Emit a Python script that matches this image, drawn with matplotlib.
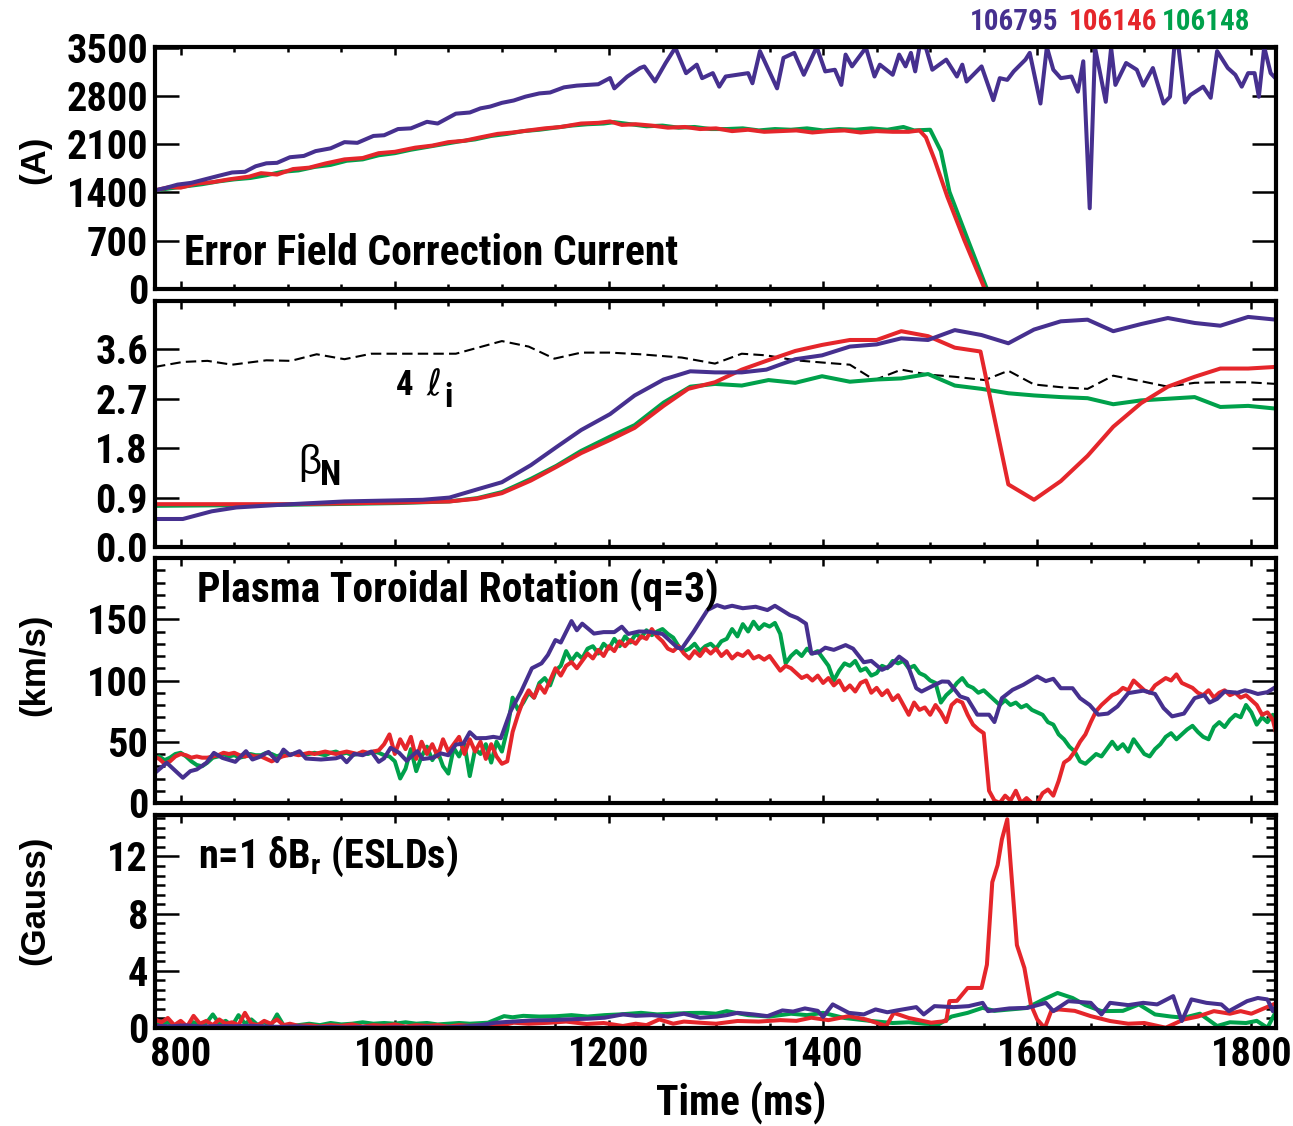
import numpy as np
import matplotlib
matplotlib.use("Agg")
from matplotlib import pyplot as plt
from matplotlib.ticker import MultipleLocator, FixedLocator, FormatStrFormatter

plt.rcParams['font.family'] = ['Roboto Condensed', 'Liberation Sans', 'DejaVu Sans']
plt.rcParams['font.weight'] = 'bold'
plt.rcParams['mathtext.default'] = 'regular'

PURPLE = '#46308f'
RED = '#e5262b'
GREEN = '#00a14b'

shots = ['106795', '106146', '106148']

# 01 - Error field correction current (A)
efc_t_purple = [776, 787, 797, 810, 825, 835, 848, 860, 870, 880, 890, 902, 915, 926, 940, 953, 965,
                980, 990, 1003, 1015, 1030, 1040, 1057, 1070, 1080, 1089, 1100, 1111, 1122, 1135, 1145,
                1158, 1170, 1180, 1190, 1201, 1205, 1217, 1229, 1233, 1243, 1253, 1262, 1272, 1282, 1287,
                1297, 1303, 1309, 1330, 1334, 1341, 1357, 1363, 1373, 1382, 1394, 1402, 1411, 1417, 1421,
                1427, 1440, 1448, 1453, 1465, 1471, 1477, 1482, 1486, 1490, 1496, 1502, 1515, 1525, 1530,
                1534, 1548, 1559, 1565, 1572, 1578, 1589, 1593, 1603, 1609, 1615, 1622, 1632, 1638, 1643,
                1649, 1654, 1664, 1669, 1673, 1683, 1693, 1699, 1708, 1718, 1724, 1728, 1732, 1738, 1743,
                1755, 1762, 1768, 1778, 1785, 1791, 1797, 1803, 1807, 1812, 1818, 1823]
efc_purple = [1430, 1470, 1514, 1540, 1600, 1640, 1690, 1700, 1780, 1823, 1830, 1911, 1930, 2000, 2040,
              2130, 2120, 2220, 2230, 2320, 2330, 2425, 2400, 2543, 2560, 2620, 2646, 2700, 2734, 2790,
              2837, 2850, 2925, 2950, 2960, 2970, 3060, 2910, 3080, 3205, 3228, 3010, 3280, 3500, 3130,
              3254, 3058, 3131, 2935, 3082, 3131, 2984, 3450, 2910, 3352, 3425, 3107, 3510, 3156, 3180,
              2960, 3400, 3229, 3500, 3082, 3254, 3107, 3400, 3229, 3425, 3156, 3510, 3500, 3180, 3327,
              3082, 3254, 3009, 3229, 2739, 3058, 3033, 3156, 3327, 3425, 2690, 3510, 3180, 3058, 3082,
              2862, 3303, 1171, 3500, 2715, 3500, 2960, 3278, 3180, 2950, 3205, 2690, 2788, 3510, 3500,
              2705, 2813, 2935, 2773, 3450, 3205, 3107, 2935, 3131, 3131, 2788, 3510, 3131, 3050]

efc_t_red = [776, 790, 800, 815, 830, 845, 864, 875, 890, 905, 920, 935, 953, 970, 985, 1000, 1019,
             1035, 1050, 1065, 1080, 1096, 1110, 1125, 1140, 1155, 1174, 1190, 1201, 1212, 1225, 1240,
             1255, 1271, 1285, 1300, 1315, 1330, 1345, 1360, 1375, 1390, 1405, 1420, 1435, 1450, 1465,
             1480, 1490, 1496, 1504, 1516, 1532, 1551, 1823]
efc_red = [1430, 1480, 1470, 1530, 1550, 1590, 1630, 1680, 1660, 1740, 1760, 1820, 1880, 1900, 1970,
           1990, 2050, 2080, 2130, 2150, 2200, 2250, 2270, 2300, 2330, 2350, 2400, 2410, 2430, 2380,
           2390, 2370, 2340, 2350, 2320, 2330, 2290, 2310, 2280, 2290, 2300, 2270, 2290, 2300, 2270,
           2290, 2280, 2280, 2300, 2200, 1880, 1340, 705, 0, 0]

efc_t_green = [776, 790, 805, 820, 835, 850, 865, 880, 895, 910, 925, 940, 955, 970, 985, 1000, 1015,
               1030, 1045, 1060, 1075, 1090, 1105, 1120, 1135, 1150, 1165, 1180, 1195, 1205, 1220, 1235,
               1250, 1265, 1280, 1295, 1310, 1325, 1340, 1355, 1370, 1385, 1400, 1415, 1430, 1445, 1460,
               1475, 1485, 1500, 1510, 1518, 1535, 1553, 1823]
efc_green = [1430, 1460, 1490, 1520, 1560, 1590, 1610, 1650, 1700, 1720, 1770, 1800, 1860, 1880, 1940,
             1970, 2020, 2060, 2100, 2140, 2170, 2220, 2250, 2290, 2310, 2340, 2370, 2390, 2400, 2420,
             2390, 2360, 2370, 2340, 2350, 2320, 2320, 2330, 2300, 2320, 2310, 2330, 2300, 2320, 2310,
             2330, 2310, 2350, 2300, 2310, 2000, 1410, 720, 0, 0]

# 02 - beta_N and 4 li
bn_t_purple = [776, 802, 829, 852, 903, 953, 1003, 1026, 1051, 1077, 1100, 1127, 1151, 1174, 1201, 1224,
               1251, 1276, 1299, 1324, 1347, 1374, 1399, 1425, 1450, 1473, 1498, 1523, 1548, 1573, 1597,
               1622, 1647, 1671, 1697, 1722, 1747, 1771, 1797, 1823]
bn_purple = [0.51, 0.51, 0.65, 0.72, 0.78, 0.83, 0.85, 0.86, 0.90, 1.05, 1.18, 1.49, 1.82, 2.13, 2.42,
             2.76, 3.05, 3.20, 3.18, 3.18, 3.23, 3.42, 3.49, 3.65, 3.69, 3.80, 3.77, 3.95, 3.86, 3.71,
             3.96, 4.11, 4.14, 3.93, 4.06, 4.17, 4.08, 4.03, 4.19, 4.14]

bn_t_red = [776, 903, 1003, 1051, 1077, 1100, 1127, 1151, 1174, 1201, 1224, 1251, 1274, 1299, 1324, 1347,
            1374, 1399, 1425, 1450, 1473, 1498, 1523, 1547, 1573, 1597, 1622, 1647, 1671, 1697, 1722,
            1747, 1771, 1797, 1823]
bn_red = [0.78, 0.78, 0.81, 0.83, 0.88, 0.98, 1.21, 1.46, 1.71, 1.95, 2.17, 2.57, 2.88, 3.00, 3.23, 3.39,
          3.57, 3.68, 3.77, 3.77, 3.93, 3.84, 3.63, 3.56, 1.14, 0.86, 1.20, 1.66, 2.19, 2.62, 2.92, 3.10,
          3.25, 3.25, 3.28]

bn_t_green = [776, 903, 1003, 1051, 1077, 1100, 1127, 1151, 1174, 1201, 1224, 1251, 1276, 1299, 1324,
              1349, 1374, 1399, 1425, 1450, 1473, 1498, 1523, 1548, 1573, 1597, 1622, 1647, 1671, 1697,
              1722, 1747, 1771, 1797, 1823]
bn_green = [0.75, 0.77, 0.80, 0.83, 0.89, 1.00, 1.24, 1.48, 1.75, 2.01, 2.22, 2.63, 2.92, 2.97, 2.94,
            3.04, 2.99, 3.11, 3.01, 3.05, 3.07, 3.15, 2.94, 2.88, 2.80, 2.76, 2.73, 2.71, 2.60, 2.67,
            2.70, 2.73, 2.55, 2.57, 2.52]

li_t = [776, 802, 825, 848, 880, 903, 927, 953, 978, 1003, 1057, 1100, 1125, 1149, 1174, 1201, 1229,
        1268, 1299, 1324, 1347, 1374, 1399, 1425, 1448, 1473, 1498, 1523, 1551, 1573, 1597, 1622, 1647,
        1671, 1697, 1722, 1747, 1771, 1797, 1823]
li4 = [3.28, 3.37, 3.39, 3.32, 3.40, 3.39, 3.51, 3.42, 3.52, 3.52, 3.52, 3.75, 3.65, 3.43, 3.54, 3.54,
       3.51, 3.45, 3.34, 3.52, 3.49, 3.40, 3.36, 3.32, 3.04, 3.23, 3.14, 3.10, 3.04, 3.21, 2.96, 2.91,
       2.88, 3.12, 3.02, 2.92, 2.99, 3.00, 3.00, 2.97]

# 03 - toroidal rotation at q=3 (km/s)
rot_t_purple = [776, 787, 802, 809, 815, 824, 831, 839, 851, 861, 867, 873, 882, 890, 896, 902, 911, 917,
                931, 945, 950, 955, 962, 970, 978, 985, 990, 996, 1004, 1011, 1021, 1026, 1036, 1043,
                1050, 1057, 1064, 1070, 1076, 1085, 1092, 1099, 1108, 1118, 1128, 1137, 1143, 1150, 1155,
                1165, 1170, 1175, 1186, 1195, 1205, 1212, 1218, 1228, 1237, 1250, 1264, 1268, 1279, 1285,
                1292, 1301, 1308, 1315, 1325, 1337, 1348, 1355, 1369, 1376, 1384, 1389, 1396, 1402, 1410,
                1421, 1428, 1438, 1445, 1455, 1463, 1471, 1478, 1487, 1492, 1501, 1511, 1517, 1528, 1535,
                1544, 1555, 1560, 1567, 1577, 1587, 1600, 1608, 1615, 1622, 1633, 1640, 1649, 1657, 1666,
                1675, 1685, 1699, 1710, 1718, 1726, 1737, 1747, 1756, 1761, 1768, 1775, 1787, 1794, 1799,
                1806, 1815, 1822]
rot_purple = [24.6, 32.8, 20.6, 26, 27.4, 32.8, 40.9, 36.8, 33.6, 42.3, 35.5, 37.4, 41.7, 34.1, 43.6, 39,
              42.3, 36.3, 35.5, 36.5, 38, 33.3, 40.1, 39, 42, 33.6, 36.5, 45, 41, 34.5, 42.3, 35.9, 37,
              40.5, 39, 47.7, 48.5, 57.8, 52.9, 53, 54, 52.9, 74.8, 91, 110, 114, 120.9, 133, 131, 148.5,
              141, 146.4, 138.3, 139.5, 139.5, 143.9, 138, 140, 139.8, 138, 126.8, 126, 139.8, 148, 157.5,
              161.5, 159.5, 161, 159, 160.2, 157.5, 161, 153.4, 151, 146.4, 122, 123, 126.8, 125, 128.9,
              126, 114.9, 116, 108.7, 112, 119.5, 115, 93.7, 91, 95, 99.2, 99, 87, 85, 72.1, 72.1, 66.1,
              85.6, 92.4, 96.5, 103.3, 99.5, 101.4, 93.7, 93.7, 85.6, 80, 72.1, 73, 78.9, 89.7, 91.7, 89,
              77.5, 70.7, 73, 85.6, 88, 82, 85, 91, 90, 92, 91, 89, 90.5, 94.3]

rot_t_grid = np.arange(775, 1830, 5)
rot_green = [36, 38, 35, 37, 40, 41, 38, 34, 31, 30, 33, 37, 38, 40, 38, 39, 37, 38, 40, 39,
             39, 41, 40, 38, 40, 39, 40, 41, 39, 40, 41, 40, 39, 41, 42, 40, 41, 39, 40, 41,
             40, 42, 41, 39, 38, 34, 20, 28, 44, 26, 38, 46, 35, 42, 30, 24, 45, 38, 48, 22,
             44, 40, 48, 33, 50, 42, 60, 86, 76, 82, 90, 86, 98, 102, 96, 108, 112, 124, 116, 122,
             118, 126, 128, 122, 130, 126, 134, 128, 136, 131, 138, 135, 141, 137, 140, 142, 138, 135, 128, 124,
             126, 130, 124, 128, 130, 126, 132, 134, 142, 136, 146, 140, 148, 142, 146, 144, 147, 138, 114, 120,
             124, 120, 126, 122, 124, 118, 112, 100, 108, 114, 112, 116, 108, 110, 104, 106, 112, 110, 116, 114,
             116, 110, 112, 106, 104, 100, 98, 82, 88, 92, 98, 102, 96, 94, 90, 92, 88, 84, 80, 84,
             80, 82, 78, 80, 76, 74, 72, 66, 64, 56, 52, 46, 42, 34, 32, 36, 40, 38, 44, 50,
             44, 48, 42, 52, 46, 40, 38, 44, 48, 54, 57, 52, 56, 60, 63, 58, 54, 52, 62, 66,
             62, 68, 72, 70, 80, 74, 64, 70, 66, 72, 64]
rot_red = [38, 36, 32, 34, 38, 40, 39, 37, 38, 37, 37, 38, 39, 41, 40, 41, 39, 38, 39, 38,
           38, 36, 34, 36, 38, 39, 40, 39, 40, 41, 40, 41, 42, 41, 40, 41, 42, 41, 40, 42,
           41, 42, 43, 48, 56, 40, 52, 44, 54, 36, 50, 40, 48, 38, 52, 42, 48, 54, 40, 52,
           42, 50, 36, 48, 38, 32, 34, 58, 72, 84, 92, 86, 96, 90, 100, 110, 104, 112, 115, 110,
           116, 122, 118, 125, 120, 128, 124, 132, 128, 133, 130, 136, 134, 142, 136, 132, 126, 124, 128, 122,
           118, 124, 120, 126, 122, 126, 120, 124, 118, 122, 120, 124, 118, 120, 117, 120, 114, 108, 112, 110,
           106, 102, 104, 100, 104, 98, 102, 96, 100, 92, 96, 91, 98, 100, 90, 94, 88, 92, 84, 88,
           80, 72, 82, 76, 78, 72, 80, 74, 66, 80, 84, 82, 72, 64, 60, 57, 10, 2, 0, 6,
           2, 10, 0, 4, 0, 0, 8, 11, 6, 18, 33, 36, 42, 50, 56, 66, 75, 80, 84, 88,
           90, 94, 92, 100, 96, 92, 90, 96, 99, 102, 100, 105, 98, 96, 94, 90, 88, 92, 86, 90,
           92, 88, 90, 86, 88, 84, 80, 72, 74, 68, 50]

# 04 - n=1 dBr (Gauss)
br_t_purple = [776, 790, 805, 820, 835, 850, 865, 880, 895, 910, 925, 940, 955, 970, 985, 1000, 1015,
               1030, 1045, 1060, 1070, 1080, 1094, 1110, 1128, 1145, 1160, 1180, 1196, 1213, 1225, 1240,
               1255, 1270, 1285, 1301, 1310, 1320, 1335, 1348, 1362, 1372, 1383, 1395, 1400, 1409, 1424,
               1438, 1449, 1460, 1469, 1487, 1494, 1504, 1522, 1536, 1549, 1554, 1574, 1591, 1608, 1615,
               1629, 1650, 1660, 1668, 1685, 1699, 1712, 1727, 1735, 1744, 1758, 1772, 1779, 1796, 1806,
               1815, 1820, 1824]
br_purple = [0.15, 0.12, 0.18, 0.1, 0.14, 0.12, 0.16, 0.1, 0.08, 0.12, 0.05, 0.08, 0.04, 0.06, 0.02,
             0.05, 0.03, 0.06, 0.04, 0.08, 0.14, 0.2, 0.37, 0.45, 0.53, 0.55, 0.6, 0.65, 0.72, 0.95, 0.85,
             0.9, 0.8, 1.0, 0.72, 0.8, 0.9, 1.06, 0.95, 0.83, 1.23, 1.15, 1.37, 1.2, 0.78, 1.65, 1.06,
             0.95, 1.3, 1.1, 1.23, 1.46, 0.95, 1.53, 1.46, 1.53, 1.76, 1.18, 1.37, 1.41, 1.76, 1.18, 1.88,
             1.76, 0.95, 1.76, 1.6, 1.76, 1.65, 2.23, 0.49, 2.0, 1.76, 1.65, 1.18, 1.88, 2.1, 2.0, 1.18,
             1.65]

br_t_red = [776, 782, 788, 794, 800, 806, 812, 818, 824, 830, 836, 842, 848, 854, 860, 866, 872, 878,
            884, 890, 896, 902, 910, 920, 930, 940, 950, 960, 970, 980, 990, 1000, 1010, 1020, 1030, 1040,
            1050, 1060, 1070, 1080, 1090, 1097, 1111, 1125, 1145, 1160, 1179, 1195, 1213, 1225, 1235,
            1247, 1260, 1270, 1285, 1300, 1320, 1340, 1360, 1375, 1389, 1405, 1424, 1440, 1459, 1466,
            1480, 1501, 1515, 1518, 1525, 1535, 1548, 1553, 1558, 1563, 1567, 1572, 1575, 1581, 1588,
            1594, 1600, 1607, 1613, 1620, 1635, 1650, 1668, 1685, 1700, 1720, 1737, 1750, 1765, 1780,
            1790, 1800, 1813, 1824]
br_red = [0.6, 0.4, 0.7, 0.2, 0.5, 0.1, 0.85, 0.3, 0.5, 0.2, 0.6, 0.3, 0.4, 0.2, 1.06, 0.3, 0.2, 0.5,
          0.3, 0.6, 0.2, 0.3, 0.15, 0.2, 0.1, 0.2, 0.15, 0.25, 0.1, 0.2, 0.15, 0.25, 0.1, 0.2, 0.15, 0.2,
          0.1, 0.2, 0.15, 0.2, 0.2, 0.14, 0.37, 0.3, 0.37, 0.45, 0.28, 0.35, 0.14, 0.3, 0.2, 0.6, 0.3,
          0.45, 0.37, 0.3, 0.49, 0.45, 0.55, 0.5, 0.72, 0.55, 0.83, 0.6, 0.14, 1.06, 0.7, 0.37, 0.49,
          1.88, 1.9, 2.8, 2.8, 4.43, 10.2, 11.4, 13.2, 14.6, 11.6, 5.8, 4.2, 1.65, 0.6, 0.0, 1.18, 1.3,
          1.2, 0.83, 0.49, 0.3, 0.35, 0.02, 0.6, 0.8, 1.18, 1.0, 1.18, 1.0, 1.41, 1.76]

br_t_green = [776, 782, 788, 794, 800, 806, 812, 818, 824, 830, 836, 842, 848, 854, 860, 866, 872, 878,
              884, 890, 896, 902, 910, 920, 930, 940, 950, 960, 970, 980, 990, 1000, 1010, 1020, 1030,
              1040, 1050, 1060, 1070, 1087, 1102, 1110, 1120, 1135, 1150, 1165, 1180, 1196, 1210, 1230,
              1245, 1260, 1275, 1288, 1300, 1310, 1330, 1350, 1370, 1385, 1400, 1420, 1445, 1465, 1480,
              1495, 1508, 1520, 1535, 1549, 1560, 1575, 1590, 1606, 1619, 1633, 1645, 1660, 1680, 1695,
              1710, 1725, 1737, 1752, 1768, 1780, 1795, 1805, 1815, 1824]
br_green = [0.3, 0.2, 0.4, 0.15, 0.3, 0.1, 0.4, 0.2, 0.35, 0.95, 0.3, 0.5, 0.15, 0.9, 0.3, 0.6, 0.2, 0.4,
            0.15, 0.95, 0.2, 0.15, 0.2, 0.3, 0.2, 0.35, 0.25, 0.3, 0.4, 0.3, 0.35, 0.3, 0.4, 0.3, 0.35,
            0.25, 0.3, 0.35, 0.3, 0.37, 0.83, 0.75, 0.85, 0.8, 0.82, 0.9, 0.8, 0.9, 0.95, 1.06, 0.95,
            1.0, 1.05, 1.06, 1.0, 1.18, 0.9, 0.8, 1.0, 0.9, 1.06, 0.7, 0.49, 0.35, 0.4, 0.3, 0.26, 0.8,
            1.06, 1.41, 1.2, 1.3, 1.4, 2.0, 2.45, 2.1, 1.6, 1.18, 1.2, 1.65, 0.95, 0.8, 0.72, 1.0, 0.14,
            0.4, 0.35, 0.5, 0.02, 1.3]

# 05 - Figure
W, H = 1293, 1126
fig = plt.figure(figsize=(W / 100, H / 100), dpi=100)


def panel(top, bottom):
    return fig.add_axes([155 / W, 1 - bottom / H, (1276 - 155) / W, (bottom - top) / H])


def fx(x):
    return x / W


def fy(y):
    return 1 - y / H


ax1 = panel(47, 289)
ax2 = panel(301, 547)
ax3 = panel(558, 803)
ax4 = panel(815, 1028)
axes = [ax1, ax2, ax3, ax4]

LW = 2.9
ax1.plot(efc_t_green, efc_green, color=GREEN, lw=LW)
ax1.plot(efc_t_red, efc_red, color=RED, lw=LW)
ax1.plot(efc_t_purple, efc_purple, color=PURPLE, lw=LW)

ax2.plot(li_t, li4, color='black', lw=1.5, dashes=(5, 2.5))
ax2.plot(bn_t_green, bn_green, color=GREEN, lw=LW)
ax2.plot(bn_t_red, bn_red, color=RED, lw=LW)
ax2.plot(bn_t_purple, bn_purple, color=PURPLE, lw=LW)

ax3.plot(rot_t_grid, rot_green, color=GREEN, lw=LW)
ax3.plot(rot_t_grid, rot_red, color=RED, lw=LW)
ax3.plot(rot_t_purple, rot_purple, color=PURPLE, lw=LW)

ax4.plot(br_t_green, br_green, color=GREEN, lw=LW)
ax4.plot(br_t_red, br_red, color=RED, lw=LW)
ax4.plot(br_t_purple, br_purple, color=PURPLE, lw=LW)

for ax in axes:
    ax.set_xlim(776, 1823)
    ax.xaxis.set_major_locator(MultipleLocator(200))
    ax.xaxis.set_minor_locator(MultipleLocator(50))
    ax.tick_params(which='both', direction='in', top=True, right=True, width=1.8, labelsize=29, pad=6)
    ax.tick_params(axis='x', which='major', length=6)
    ax.tick_params(axis='x', which='minor', length=3.5)
    ax.tick_params(axis='y', which='major', length=17, pad=5)
    ax.tick_params(axis='y', which='minor', length=7)
    for s in ax.spines.values():
        s.set_linewidth(3)
    if ax is not ax4:
        ax.tick_params(labelbottom=False)

ax1.set_ylim(0, 3510)
ax1.yaxis.set_major_locator(FixedLocator([0, 700, 1400, 2100, 2800, 3500]))

ax2.set_ylim(0, 4.48)
ax2.yaxis.set_major_locator(FixedLocator([0, 0.9, 1.8, 2.7, 3.6]))
ax2.yaxis.set_major_formatter(FormatStrFormatter('%.1f'))

ax3.set_ylim(0, 200)
ax3.yaxis.set_major_locator(FixedLocator([0, 50, 100, 150]))
ax3.yaxis.set_minor_locator(MultipleLocator(10))

ax4.set_ylim(0, 14.9)
ax4.yaxis.set_major_locator(FixedLocator([0, 4, 8, 12]))
ax4.yaxis.set_minor_locator(MultipleLocator(4 / 6))

# labels and annotations
fig.text(fx(184), fy(265), 'Error Field Correction Current', fontsize=30, va='baseline')
fig.text(fx(197), fy(602), 'Plasma Toroidal Rotation (q=3)', fontsize=30, va='baseline')
fig.text(fx(198), fy(868), 'n=1 δB$_{r}$ (ESLDs)', fontsize=29, va='baseline')

fig.text(fx(396), fy(395), '4', fontsize=25, va='baseline')
fig.text(fx(426), fy(395), 'ℓ', fontsize=26, va='baseline', weight='normal',
         family=['DejaVu Sans'], style='italic')
fig.text(fx(444), fy(407), 'i', fontsize=24, va='baseline')
fig.text(fx(298), fy(474), 'β', fontsize=29, va='baseline', weight='normal',
         family=['Liberation Sans', 'DejaVu Sans'])
fig.text(fx(320), fy(485), 'N', fontsize=25, va='baseline')

for txt, xc, col in zip(shots, [1014, 1113, 1206], [PURPLE, RED, GREEN]):
    fig.text(fx(xc), fy(22), txt, color=col, fontsize=21, ha='center', va='center')

for txt, yc in [('(A)', 160), ('(km/s)', 665), ('(Gauss)', 900)]:
    fig.text(fx(35), fy(yc), txt, rotation=90, fontsize=25, ha='center', va='center',
             family=['Liberation Sans', 'DejaVu Sans'])

fig.text(fx(741), fy(1103), 'Time (ms)', fontsize=30, ha='center', va='center')

fig.savefig('out.png', dpi=100)
